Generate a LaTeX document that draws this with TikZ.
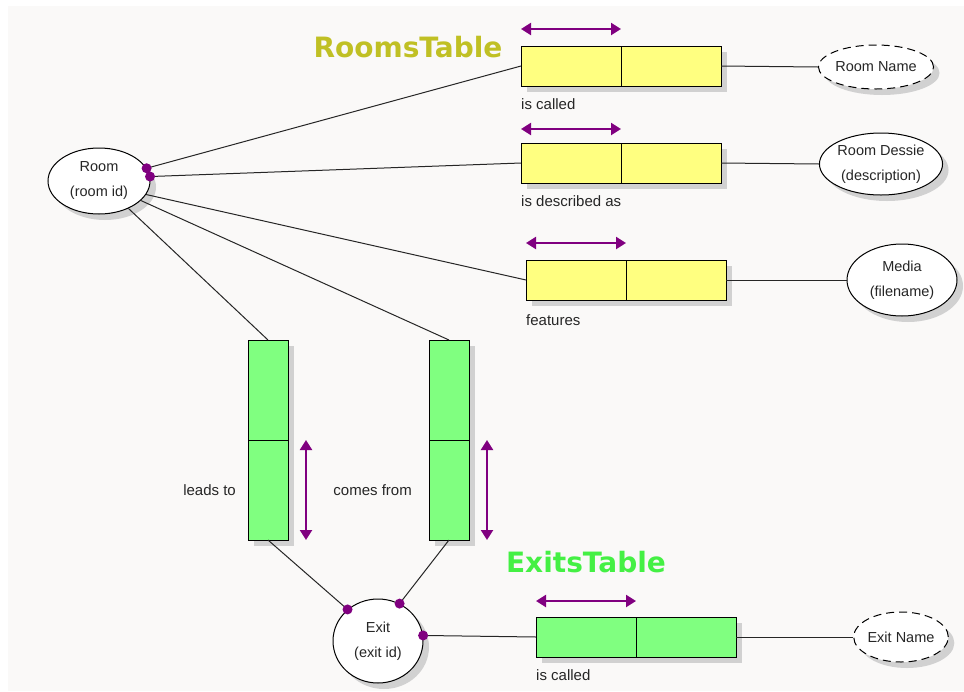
\documentclass[tikz,border=0pt]{standalone}
\usepackage{fontspec}
\setmainfont{Liberation Sans}
\newfontfamily\headfont{DejaVu Sans}
\usetikzlibrary{positioning,shapes.geometric,shadows,arrows.meta}
\definecolor{cellyellow}{RGB}{255,255,128}
\definecolor{cellgreen}{RGB}{128,255,128}
\definecolor{linkpurple}{RGB}{128,0,128}
\definecolor{roomshead}{RGB}{192,192,36}
\definecolor{exitshead}{RGB}{68,240,68}
\definecolor{paper}{RGB}{250,249,248}
\begin{document}
\begin{tikzpicture}[x=1pt,y=-1pt]
	\tikzstyle{shade} =[drop shadow={shadow xshift=6pt, shadow yshift=-6pt, fill=black!18, opacity=1}];
	\tikzstyle{cell} =[draw, line width=1pt, inner sep=0pt, outer sep=0pt, shade];
	\tikzstyle{hcell} =[cell, minimum width=100pt, minimum height=40pt];
	\tikzstyle{vcell} =[cell, minimum width=40pt, minimum height=100pt, fill=cellgreen];
	\tikzstyle{entity} =[ellipse, draw, line width=1pt, fill=white, inner sep=0pt, align=center, text=black!85, font=\fontsize{14.5}{25}\selectfont, shade];
	\tikzstyle{attrib} =[entity, dash pattern=on 8pt off 5pt];
	\tikzstyle{lbl} =[inner sep=0pt, text=black!85, font=\fontsize{15}{18}\selectfont];
	\tikzstyle{link} =[line width=1pt, black!85];
	\tikzstyle{span} =[linkpurple, line width=2.2pt, {Triangle[width=12pt,length=10pt]}-{Triangle[width=12pt,length=10pt]}];
	\tikzstyle{head} =[inner sep=0pt, font=\headfont\bfseries\fontsize{28}{32}\selectfont];

	% paper
	\useasboundingbox (0,0) rectangle (964,691);
	\fill[paper] (8,6) rectangle (964,691);

	% rooms table
	\node[head, text=roomshead] (roomstitle) at (408,47) {RoomsTable};
	\node[hcell, fill=cellyellow] (called1) at (571,66) {};
	\node[hcell, fill=cellyellow, right=0pt of called1] (called2) {};
	\node[hcell, fill=cellyellow] (described1) at (571,163) {};
	\node[hcell, fill=cellyellow, right=0pt of described1] (described2) {};
	\node[hcell, fill=cellyellow] (features1) at (576,280) {};
	\node[hcell, fill=cellyellow, right=0pt of features1] (features2) {};

	\node[lbl, anchor=north west] (calledlbl) at ([yshift=-12pt]called1.south west) {is called};
	\node[lbl, anchor=north west] (describedlbl) at ([yshift=-12pt]described1.south west) {is described as};
	\node[lbl, anchor=north west] (featureslbl) at ([yshift=-14pt]features1.south west) {features};

	\node[entity, minimum width=102pt, minimum height=66pt] (room) at (99,181) {Room\\(room id)};
	\node[attrib, minimum width=88pt, minimum height=44pt] (roomname) at (876,67) {Room Name};
	\node[entity, minimum width=112pt, minimum height=62pt] (roomdesc) at (881,164) {Room Dessie\\(description)};
	\node[entity, minimum width=110pt, minimum height=72pt] (media) at (902,280) {Media\\(filename)};

	% exits table
	\node[vcell] (leads1) at (268,390) {};
	\node[vcell, below=0pt of leads1] (leads2) {};
	\node[vcell] (comes1) at (449,390) {};
	\node[vcell, below=0pt of comes1] (comes2) {};
	\node[lbl, left=12pt of leads2] (leadslbl) {leads to};
	\node[lbl, left=17pt of comes2] (comeslbl) {comes from};

	\node[head, text=exitshead] (exitstitle) at (586,562) {ExitsTable};
	\node[entity, minimum width=90pt, minimum height=84pt] (exit) at (378,641) {Exit\\(exit id)};
	\node[hcell, fill=cellgreen] (named1) at (586,637) {};
	\node[hcell, fill=cellgreen, right=0pt of named1] (named2) {};
	\node[lbl, anchor=north west] (namedlbl) at ([yshift=-12pt]named1.south west) {is called};
	\node[attrib, minimum width=90pt, minimum height=50pt] (exitname) at (901,637) {Exit Name};

	% connectors
	\draw[link] (room.15) -- (called1.west);
	\draw[link] (room.5) -- (described1.west);
	\draw[link] (room.-16) -- (features1.west);
	\draw[link] (room.-43) -- (leads1.north);
	\draw[link] (room.-25) -- (comes1.north);
	\draw[link] (called2.east) -- (roomname.west);
	\draw[link] (described2.east) -- (roomdesc.west);
	\draw[link] (features2.east) -- (media.west);
	\draw[link] (leads2.south) -- (exit.134);
	\draw[link] (comes2.south) -- (exit.60);
	\draw[link] (exit.7) -- (named1.west);
	\draw[link] (named2.east) -- (exitname.west);

	% link dots
	\foreach \a in {15,5} \fill[linkpurple] (room.\a) circle (5);
	\foreach \a in {134,60,7} \fill[linkpurple] (exit.\a) circle (5);

	% spans
	\draw[span] ([yshift=17pt]called1.north west) -- ([yshift=17pt]called1.north east);
	\draw[span] ([yshift=14pt]described1.north west) -- ([yshift=14pt]described1.north east);
	\draw[span] ([yshift=17pt]features1.north west) -- ([yshift=17pt]features1.north east);
	\draw[span] ([yshift=16pt]named1.north west) -- ([yshift=16pt]named1.north east);
	\draw[span] ([xshift=18pt]leads2.north east) -- ([xshift=18pt]leads2.south east);
	\draw[span] ([xshift=18pt]comes2.north east) -- ([xshift=18pt]comes2.south east);
\end{tikzpicture}
\end{document}
